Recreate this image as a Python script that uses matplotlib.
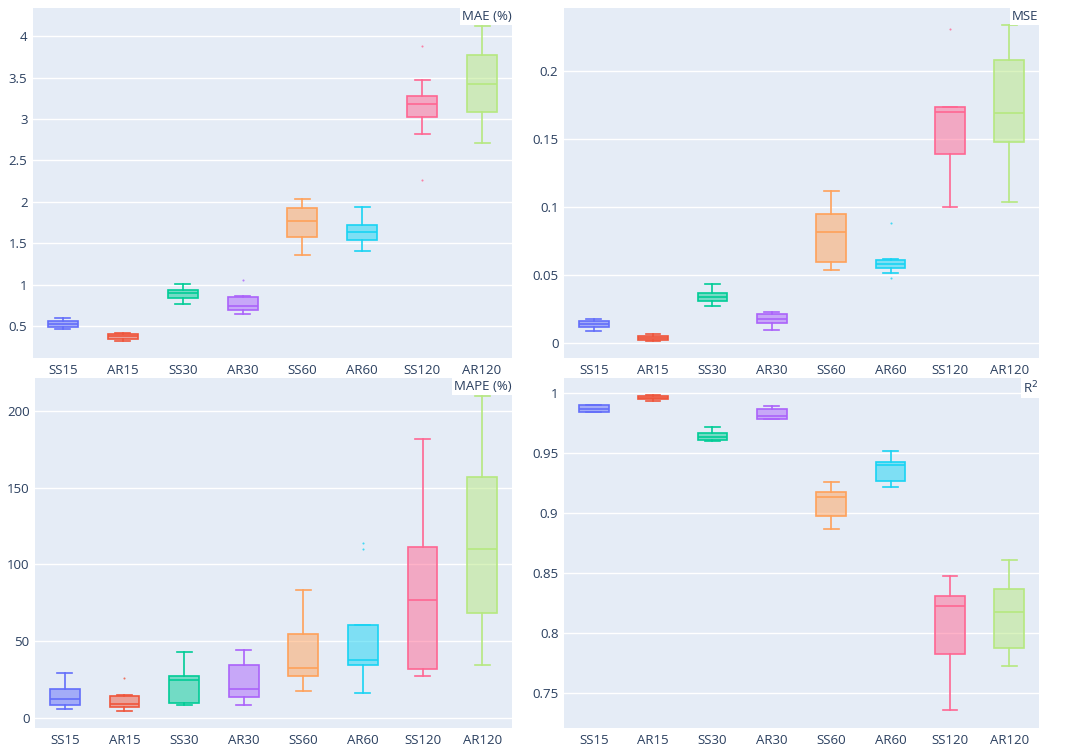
import matplotlib
matplotlib.use('Agg')
import matplotlib.pyplot as plt
from matplotlib.ticker import FuncFormatter
from matplotlib.colors import to_rgba

plt.rcParams['font.family'] = ['Open Sans', 'DejaVu Sans']

models = ['SS15', 'AR15', 'SS30', 'AR30', 'SS60', 'AR60', 'SS120', 'AR120']
colors = ['#636EFA', '#EF553B', '#00CC96', '#AB63FA', '#FFA15A', '#19D3F3', '#FF6692', '#B6E880']

# MAE (%)
mae_lo  = [0.468, 0.323, 0.761, 0.649, 1.353, 1.401, 2.821, 2.713]
mae_q1  = [0.485, 0.339, 0.842, 0.693, 1.570, 1.534, 3.026, 3.079]
mae_med = [0.524, 0.375, 0.894, 0.741, 1.767, 1.630, 3.183, 3.425]
mae_q3  = [0.564, 0.407, 0.938, 0.846, 1.920, 1.715, 3.280, 3.767]
mae_hi  = [0.600, 0.410, 1.007, 0.862, 2.033, 1.940, 3.465, 4.125]
mae_out = [[], [], [], [1.055], [], [], [3.883, 2.258], []]

# MSE
mse_lo  = [0.0091, 0.0020, 0.0275, 0.0096, 0.0537, 0.0520, 0.100, 0.1037]
mse_q1  = [0.0118, 0.0025, 0.0309, 0.0152, 0.0596, 0.0556, 0.1390, 0.148]
mse_med = [0.0140, 0.0039, 0.0338, 0.0179, 0.0821, 0.0583, 0.1703, 0.1696]
mse_q3  = [0.0162, 0.0054, 0.0373, 0.0216, 0.0949, 0.0610, 0.1735, 0.2081]
mse_hi  = [0.0176, 0.0066, 0.0436, 0.0228, 0.1118, 0.0618, 0.1740, 0.2338]
mse_out = [[], [], [], [], [], [0.0882, 0.0483], [0.2314], []]

# MAPE (%)
mape_lo  = [5.9, 4.6, 8.3, 8.1, 17.6, 16.1, 27.0, 34.2]
mape_q1  = [8.3, 6.7, 9.4, 13.5, 27.0, 34.6, 31.8, 68.3]
mape_med = [12.4, 8.7, 24.8, 18.5, 32.6, 37.9, 76.8, 109.9]
mape_q3  = [18.5, 14.4, 27.2, 34.2, 54.6, 60.7, 111.4, 157.1]
mape_hi  = [29.2, 15.0, 42.7, 44.4, 83.1, 60.7, 182.2, 210.0]
mape_out = [[], [25.9], [], [], [], [114.3, 110.1], [], []]

# R2
r2_lo  = [0.9842, 0.9936, 0.9600, 0.9786, 0.8867, 0.9217, 0.7361, 0.7725]
r2_q1  = [0.9842, 0.9950, 0.9608, 0.9789, 0.8978, 0.9267, 0.7831, 0.7878]
r2_med = [0.9872, 0.9964, 0.9636, 0.9814, 0.9136, 0.9400, 0.8231, 0.8175]
r2_q3  = [0.9900, 0.9978, 0.9670, 0.9867, 0.9178, 0.9431, 0.8314, 0.8367]
r2_hi  = [0.9900, 0.9983, 0.9719, 0.9892, 0.9261, 0.9517, 0.8475, 0.8608]
r2_out = [[], [], [], [], [], [], [], []]

panels = [
    ('MAE (%)', mae_lo, mae_q1, mae_med, mae_q3, mae_hi, mae_out, (0.114, 4.34), [0.5, 1, 1.5, 2, 2.5, 3, 3.5, 4]),
    ('MSE', mse_lo, mse_q1, mse_med, mse_q3, mse_hi, mse_out, (-0.0108, 0.2466), [0, 0.05, 0.1, 0.15, 0.2]),
    ('MAPE (%)', mape_lo, mape_q1, mape_med, mape_q3, mape_hi, mape_out, (-6.7, 221.7), [0, 50, 100, 150, 200]),
    ('R$^2$', r2_lo, r2_q1, r2_med, r2_q3, r2_hi, r2_out, (0.721, 1.0128), [0.75, 0.8, 0.85, 0.9, 0.95, 1]),
]

positions = [
    [33/1067, 1-358/745, (512-33)/1067, 350/745],
    [564/1067, 1-358/745, (1039-564)/1067, 350/745],
    [35/1067, 1-728/745, (512-35)/1067, 350/745],
    [564/1067, 1-728/745, (1039-564)/1067, 350/745],
]

fig = plt.figure(figsize=(10.67, 7.45), dpi=100)
txt = '#2a3f5f'
lw = 1.2

for (name, lo, q1, med, q3, hi, out, ylim, yt), pos in zip(panels, positions):
    ax = fig.add_axes(pos)
    ax.set_facecolor('#E5ECF6')
    for s in ax.spines.values():
        s.set_visible(False)
    ax.set_axisbelow(True)
    ax.grid(axis='y', color='white', linewidth=1)
    for i in range(len(models)):
        st = [{'med': med[i], 'q1': q1[i], 'q3': q3[i], 'whislo': lo[i],
               'whishi': hi[i], 'fliers': out[i], 'label': models[i]}]
        c = colors[i]
        ax.bxp(st, positions=[i], widths=0.5, patch_artist=True, showfliers=True,
               boxprops=dict(facecolor=to_rgba(c, 0.5), edgecolor=c, linewidth=lw),
               medianprops=dict(color=c, linewidth=lw),
               whiskerprops=dict(color=c, linewidth=lw),
               capprops=dict(color=c, linewidth=lw),
               capwidths=0.25,
               flierprops=dict(marker='o', markersize=1.5, markerfacecolor=c,
                               markeredgecolor='none', alpha=0.8))
    ax.set_xlim(-0.5, len(models) - 0.5)
    ax.set_xticks(range(len(models)))
    ax.set_xticklabels(models)
    ax.set_ylim(*ylim)
    ax.set_yticks(yt)
    ax.yaxis.set_major_formatter(FuncFormatter(lambda v, p: '%g' % round(v, 4)))
    ax.tick_params(length=0, labelsize=9.5, colors=txt, pad=4)
    ax.text(0.999, 0.995, name, transform=ax.transAxes, ha='right', va='top',
            fontsize=9.5, color=txt,
            bbox=dict(facecolor='white', edgecolor='none', pad=1.5))

fig.savefig('out.png', dpi=100, facecolor='white')
